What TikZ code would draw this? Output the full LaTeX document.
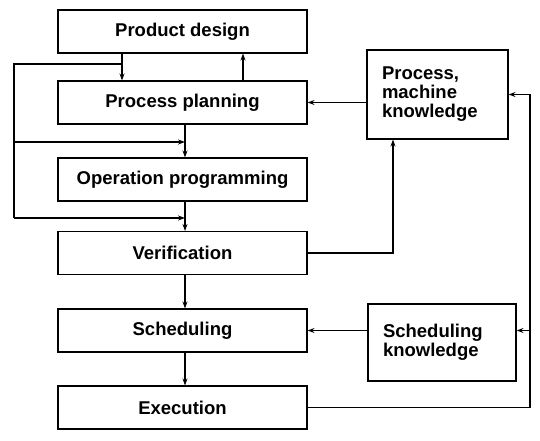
\documentclass[tikz,border=0pt]{standalone}
\usepackage{fontspec}
\setmainfont{Liberation Sans}
\usetikzlibrary{arrows.meta}

\begin{document}
\begin{tikzpicture}[x=1pt,y=-1pt,%%
  stageBox/.style={draw,line width=1.1pt,minimum width=249pt,minimum height=43pt,
    inner sep=0pt,font=\fontsize{18.5}{19}\selectfont\bfseries},%%
  knowBox/.style={draw,line width=1.1pt,inner xsep=15pt,inner ysep=0pt,align=left,
    font=\fontsize{18.5}{19}\selectfont\bfseries},%%
  arrowStyle/.style={-{Stealth[length=7pt,width=5pt]},line width=1.1pt,draw},%%
  lineStyle/.style={-,line width=1.1pt}
]
%%
%%
\useasboundingbox (0,0) rectangle (540,441);
\pgfmathsetmacro{\xMid}{182.5}
\pgfmathsetmacro{\xIn}{122}
\pgfmathsetmacro{\xUp}{243}
\pgfmathsetmacro{\xDown}{185}
\pgfmathsetmacro{\xLoop}{14}
\pgfmathsetmacro{\xVer}{393}
\pgfmathsetmacro{\xBack}{530}
\pgfmathsetmacro{\ySplit}{64}
\coordinate (inX) at (\xIn,0);
\coordinate (upX) at (\xUp,0);
\coordinate (downX) at (\xDown,0);
\coordinate (verX) at (\xVer,0);
\coordinate (backX) at (\xBack,0);
%%
%%
%% The stages of the chain.
\node[stageBox] (design) at (\xMid,31.5) {Product design};
\node[stageBox] (planning) at (\xMid,102.5) {Process planning};
\node[stageBox] (programming) at (\xMid,179.5) {Operation programming};
\node[stageBox] (verification) at (\xMid,253) {Verification};
\node[stageBox] (scheduling) at (\xMid,330.5) {Scheduling};
\node[stageBox] (execution) at (\xMid,407.5) {Execution};
%% The knowledge boxes.
\node[knowBox,text width=111pt,minimum height=89pt] (machine) at (437.5,94.5)
  {Process,\\machine\\knowledge};
\node[knowBox,text width=118pt,minimum height=77pt] (schedKnow) at (442,342.5)
  {Scheduling\\knowledge};
%%
%% Arrows down the chain.
\draw[arrowStyle] (design.south -| inX) -- (planning.north -| inX);
\draw[arrowStyle] (planning.north -| upX) -- (design.south -| upX);
\draw[arrowStyle] (planning.south -| downX) -- (programming.north -| downX);
\draw[arrowStyle] (programming.south -| downX) -- (verification.north -| downX);
\draw[arrowStyle] (verification.south -| downX) -- (scheduling.north -| downX);
\draw[arrowStyle] (scheduling.south -| downX) -- (execution.north -| downX);
%% Bypass on the left.
\coordinate (split) at (\xIn,\ySplit);
\coordinate (loopTop) at (\xLoop,\ySplit);
\coordinate (loopMid) at (\xLoop,142);
\coordinate (loopBot) at (\xLoop,218);
\draw[lineStyle] (split) -- (loopTop) -- (loopBot);
\draw[arrowStyle] (loopMid) -- (loopMid -| downX);
\draw[arrowStyle] (loopBot) -- (loopBot -| downX);
%% Knowledge feeds.
\draw[arrowStyle] (machine.west |- planning.east) -- (planning.east);
\draw[arrowStyle] (schedKnow.west |- scheduling.east) -- (scheduling.east);
\draw[arrowStyle] (verification.east) -- (verification.east -| verX) -- (machine.south -| verX);
%% Feedback from execution.
\draw[arrowStyle] (execution.east) -- (execution.east -| backX) -- (machine.east -| backX) -- (machine.east);
\draw[arrowStyle] (backX |- scheduling.east) -- (schedKnow.east |- scheduling.east);
\end{tikzpicture}
\end{document}
